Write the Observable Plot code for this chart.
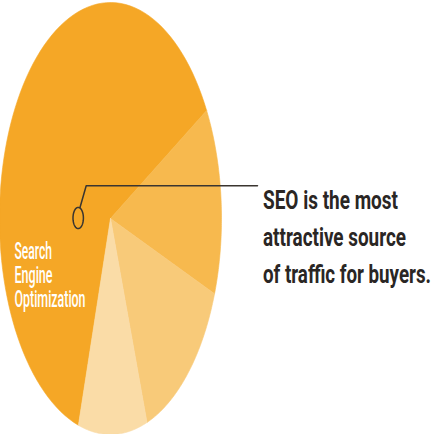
<!DOCTYPE html>
<html><head><meta charset="utf-8">
<script src="https://cdn.jsdelivr.net/npm/d3@7"></script>
<script src="https://cdn.jsdelivr.net/npm/@observablehq/plot@0.6"></script>
<style>body{margin:0;background:#fff;overflow:hidden}</style>
</head><body><div id="chart"></div>
<script>
// ---- data ----
const categories = ["Search Engine Optimization", "Source B", "Source C", "Source D"];
const shares = [62, 14, 14, 10];
const colors = ["#F5A726", "#F7B94E", "#F8CA79", "#FADCA7"];
const labelLines = ["Search", "Engine", "Optimization"];
const headlineLines = ["SEO is the most", "attractive source", "of traffic for buyers."];

// ---- layout ----
const W = 434, H = 434;
const CX = 110, CY = 218, RX = 111, RY = 216;
const startDeg = 30 + 0.62 * 360; // SEO slice ends at 30° (clockwise)
const total = d3.sum(shares);

const slices = [];
let acc = 0;
shares.forEach((v, i) => {
  const a0 = startDeg - acc / total * 360;
  const a1 = startDeg - (acc + v) / total * 360;
  acc += v;
  const pts = [{cat: categories[i], x: CX, y: CY}];
  const n = 90;
  for (let k = 0; k <= n; k++) {
    const a = (a0 + (a1 - a0) * k / n) * Math.PI / 180;
    pts.push({cat: categories[i], x: CX + RX * Math.cos(a), y: CY - RY * Math.sin(a)});
  }
  pts.push({cat: categories[i], x: CX, y: CY});
  slices.push({pts, color: colors[i]});
});

// annotation marker ellipse
const mk = {cx: 77.7, cy: 217.5, rx: 5.2, ry: 10.6};
const marker = d3.range(0, 61).map(k => {
  const a = k / 60 * 2 * Math.PI;
  return {x: mk.cx + mk.rx * Math.cos(a), y: mk.cy + mk.ry * Math.sin(a)};
});
const leader = [{x: 79.5, y: 207}, {x: 85.7, y: 185.3}, {x: 257, y: 185.3}];

const headline = headlineLines.map((t, i) => ({t, x: 262.5, y: 190.3 + i * 36.9}));
const label = labelLines.map((t, i) => ({t, x: 14, y: 242.6 + i * 23.8}));

const marks = [];
slices.forEach(s => marks.push(Plot.line(s.pts, {x: "x", y: "y", fill: s.color, stroke: s.color, strokeWidth: 0.6, curve: "linear"})));
marks.push(Plot.line(marker, {x: "x", y: "y", stroke: "#3a3530", strokeWidth: 1.5, fill: "none"}));
marks.push(Plot.line(leader, {x: "x", y: "y", stroke: "#3a3530", strokeWidth: 1.5, fill: "none"}));
marks.push(Plot.text(label, {x: "x", y: "y", text: "t", textAnchor: "start", lineAnchor: "top", fill: "#ffffff", fontSize: 23, fontWeight: 500, fontFamily: "Roboto"}));
marks.push(Plot.text(headline, {x: "x", y: "y", text: "t", textAnchor: "start", lineAnchor: "top", fill: "#2a2624", fontSize: 25.5, fontWeight: 700, fontFamily: "Roboto"}));

const chart = Plot.plot({
  width: W, height: H, margin: 0,
  x: {domain: [0, W], range: [0, W], axis: null},
  y: {domain: [0, H], range: [0, H], axis: null},
  style: {background: "#fff", overflow: "visible"},
  marks
});
document.getElementById("chart").append(chart);

// condense the text to the reference widths
const widths = new Map([
  ["SEO is the most", 135], ["attractive source", 143], ["of traffic for buyers.", 168],
  ["Search", 37.5], ["Engine", 38], ["Optimization", 71]
]);
chart.querySelectorAll("text").forEach(el => {
  const w = widths.get(el.textContent.trim());
  if (w) { el.setAttribute("textLength", w); el.setAttribute("lengthAdjust", "spacingAndGlyphs"); }
});
</script></body></html>
